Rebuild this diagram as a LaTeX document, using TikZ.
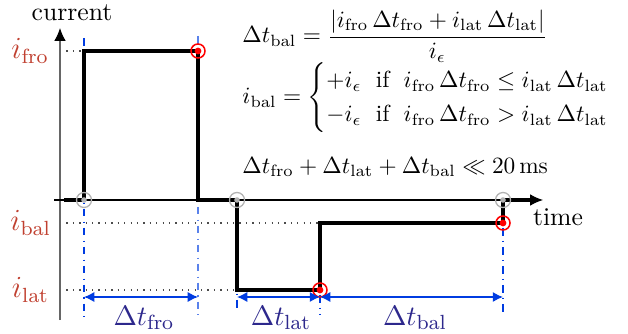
\documentclass[tikz,border=0pt]{standalone}
\usepackage{amsmath,amssymb}
\usetikzlibrary{arrows.meta}
\definecolor{lblred}{RGB}{192,64,48}
\definecolor{dimblue}{RGB}{0,60,225}
\definecolor{dimtxt}{RGB}{45,40,140}
\definecolor{ltblue}{RGB}{90,130,235}
\begin{document}
\begin{tikzpicture}[x=0.39pt,y=-0.39pt,
  axisline/.style={line width=0.5pt,-{Latex[length=5pt,width=4.5pt]}},
  signal/.style={line width=1.3pt,line join=miter},
  guide/.style={dotted,line width=0.5pt,black!70},
  vguide/.style={dash dot,line width=0.5pt,dimblue},
  dimarrow/.style={line width=0.6pt,dimblue,{Latex[length=4pt,width=4pt]}-{Latex[length=4pt,width=4pt]}},
  ilabel/.style={text=lblred,anchor=east,inner sep=1pt,font=\large},
  dlabel/.style={text=dimtxt,inner sep=1pt,font=\fontsize{10.95}{13}\selectfont},
  formula/.style={anchor=west,inner sep=0pt,scale=0.91,transform shape},
  graymark/.style={draw=black!30,line width=0.5pt,fill=none},
  redmark/.style={draw=red,line width=0.6pt,fill=none}]
\useasboundingbox (0,0) rectangle (628,334);
% coordinates
\coordinate (o) at (60,200);
\coordinate (ytop) at (60,28);
\coordinate (ybot) at (60,320);
\coordinate (xleft) at (54,200);
\coordinate (xright) at (543,200);
\coordinate (s0) at (64,200);
\coordinate (a0) at (84,200);
\coordinate (a1) at (84,51);
\coordinate (b1) at (198,51);
\coordinate (b0) at (198,200);
\coordinate (c0) at (237,200);
\coordinate (c1) at (237,290);
\coordinate (d1) at (320,290);
\coordinate (d2) at (320,223);
\coordinate (e2) at (503,223);
\coordinate (e0) at (503,200);
\coordinate (s1) at (531,200);
\coordinate (yfro) at (60,51);
\coordinate (ybal) at (60,223);
\coordinate (ylat) at (60,290);
% guides
\draw[guide] (yfro) -- (a1);
\draw[guide] (ybal) -- (d2);
\draw[guide] (ylat) -- (c1);
\coordinate (va0) at (84,38); \coordinate (va1) at (84,318);
\coordinate (vb0) at (198,36); \coordinate (vb1) at (198,318);
\coordinate (vc0) at (237,205); \coordinate (vc1) at (237,312);
\coordinate (vd0) at (320,295); \coordinate (vd1) at (320,314);
\coordinate (ve0) at (503,228); \coordinate (ve1) at (503,313);
\draw[vguide] (va0) -- (va1);
\draw[vguide,ltblue] (vb0) -- (vb1);
\draw[vguide] (vc0) -- (vc1);
\draw[vguide] (vd0) -- (vd1);
\draw[vguide] (ve0) -- (ve1);
% axes
\draw[line width=0.5pt,black!60] (ybot) -- (60,40);
\draw[axisline] (60,40) -- (ytop);
\draw[axisline] (xleft) -- (xright);
% signal
\draw[signal] (s0) -- (a0) -- (a1) -- (b1) -- (b0) -- (c0) -- (c1) -- (d1) -- (d2) -- (e2) -- (e0) -- (s1);
% markers
\foreach \p in {a0,c0,e0}{
  \fill[black!30] (\p) circle (2.8);
  \draw[graymark] (\p) circle (7.5);
}
\foreach \p in {b1,d1,e2}{
  \fill[red] (\p) circle (3.4);
  \draw[redmark] (\p) circle (7);
}
% dimensions
\coordinate (da0) at (84,297); \coordinate (da1) at (198,297);
\coordinate (db0) at (237,297); \coordinate (db1) at (320,297);
\coordinate (dc0) at (320,297); \coordinate (dc1) at (503,297);
\draw[dimarrow] (da0) -- (da1);
\draw[dimarrow] (db0) -- (db1);
\draw[dimarrow] (dc0) -- (dc1);
\node[dlabel] (lfro) at (144,318) {$\Delta t_{\mathrm{fro}}$};
\node[dlabel] (llat) at (281,318) {$\Delta t_{\mathrm{lat}}$};
\node[dlabel] (lbal) at (415,318) {$\Delta t_{\mathrm{bal}}$};
% axis labels
\node (cur) at (72,13) {current};
\node (tim) at (558,217) {time};
\node[ilabel] (lifro) at (52,51) {$i_{\mathrm{fro}}$};
\node[ilabel] (libal) at (54,223) {$i_{\mathrm{bal}}$};
\node[ilabel] (lilat) at (52,290) {$i_{\mathrm{lat}}$};
% formulas
\node[formula] (f1) at (242,36) {$\Delta t_{\mathrm{bal}} = \dfrac{|i_{\mathrm{fro}}\,\Delta t_{\mathrm{fro}} + i_{\mathrm{lat}}\,\Delta t_{\mathrm{lat}}|}{i_\epsilon}$};
\node[formula] (f2) at (242,98) {$i_{\mathrm{bal}} = \begin{cases} +i_\epsilon \;\text{ if }\; i_{\mathrm{fro}}\,\Delta t_{\mathrm{fro}} \le i_{\mathrm{lat}}\,\Delta t_{\mathrm{lat}}\\ -i_\epsilon \;\text{ if }\; i_{\mathrm{fro}}\,\Delta t_{\mathrm{fro}} > i_{\mathrm{lat}}\,\Delta t_{\mathrm{lat}}\end{cases}$};
\node[formula] (f3) at (242,167) {$\Delta t_{\mathrm{fro}} + \Delta t_{\mathrm{lat}} + \Delta t_{\mathrm{bal}} \ll 20\,\mathrm{ms}$};
\end{tikzpicture}
\end{document}
